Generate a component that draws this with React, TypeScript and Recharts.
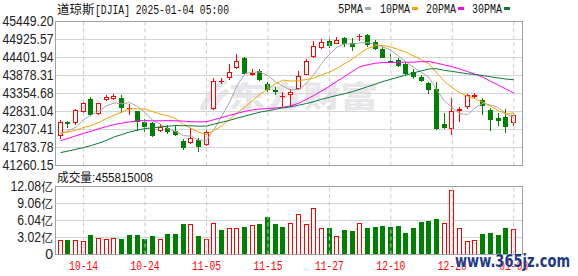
import { Bar, CartesianGrid, ComposedChart, Line, ReferenceLine, XAxis, YAxis } from 'recharts'

const dates = [
  '10-09', '10-10', '10-11', '10-14', '10-15', '10-16', '10-17', '10-18', '10-21', '10-22',
  '10-23', '10-24', '10-25', '10-28', '10-29', '10-30', '10-31', '11-01', '11-04', '11-05',
  '11-06', '11-07', '11-08', '11-11', '11-12', '11-13', '11-14', '11-15', '11-18', '11-19',
  '11-20', '11-21', '11-22', '11-25', '11-26', '11-27', '11-29', '12-02', '12-03', '12-04',
  '12-05', '12-06', '12-09', '12-10', '12-11', '12-12', '12-13', '12-16', '12-17', '12-18',
  '12-19', '12-20', '12-23', '12-24', '12-26', '12-27', '12-30', '12-31', '01-02', '01-03',
]
const open = [
  42110, 42520, 42500, 42830, 43200, 42750, 43160, 43200, 43230, 42900,
  42840, 42540, 42500, 42270, 42340, 42270, 41980, 41910, 42000, 41850,
  42890, 43720, 43800, 44090, 44380, 43900, 44010, 43630, 43470, 43260,
  43310, 43500, 43900, 44420, 44670, 44880, 44800, 44960, 44815, 44990,
  45050, 44840, 44650, 44300, 44330, 44200, 43990, 43840, 43670, 43500,
  42470, 42313, 42845, 42952, 43244, 43165, 42874, 42632, 42680, 42505,
]
const high = [
  42580, 42560, 42900, 43110, 43240, 43090, 43320, 43340, 43300, 43060,
  42860, 42600, 42520, 42460, 42430, 42430, 42020, 42340, 42050, 42290,
  43800, 43810, 44200, 44490, 44420, 44060, 44060, 43680, 43530, 43390,
  43500, 44020, 44350, 44880, 44930, 45000, 44990, 45000, 44960, 45080,
  45090, 44900, 44700, 44500, 44400, 44230, 44080, 43900, 43700, 43700,
  42780, 43215, 42950, 43340, 43360, 43220, 42920, 42780, 42900, 42800,
]
const low = [
  42030, 42340, 42440, 42800, 42700, 42720, 43150, 43180, 42800, 42730,
  42270, 42240, 42100, 42240, 42180, 42120, 41700, 41900, 41660, 41840,
  42880, 43640, 43760, 44060, 43880, 43850, 43730, 43410, 43300, 42970,
  42970, 43450, 43880, 44400, 44650, 44690, 44790, 44700, 44590, 44870,
  44700, 44610, 44380, 44230, 44120, 43890, 43780, 43680, 43330, 42280,
  42330, 42140, 42530, 42900, 43200, 42720, 42270, 42400, 42210, 42420,
]
const close = [
  42512, 42454, 42864, 43065, 42740, 43077, 43239, 43276, 42932, 42925,
  42514, 42374, 42114, 42387, 42234, 42142, 41763, 42052, 41794, 42222,
  43730, 43729, 43989, 44293, 43911, 43958, 43751, 43445, 43389, 43269,
  43408, 43870, 44296, 44736, 44860, 44722, 44911, 44782, 44705, 45014,
  44765, 44643, 44401, 44248, 44149, 43914, 43828, 43717, 43450, 42327,
  42342, 42840, 42907, 43297, 43325, 42992, 42573, 42544, 42392, 42732,
]
// 成交量, 亿
const volume = [
  2.66, 2.49, 2.66, 2.31, 3.55, 3.02, 2.72, 2.96, 2.72, 3.42,
  3.55, 2.84, 3.2, 2.84, 3.73, 3.73, 5.33, 5.33, 3.37, 2.84,
  5.63, 4.44, 4.62, 4.62, 4.8, 5.27, 5.5, 6.75, 5.33, 4.97,
  5.63, 7.28, 5.33, 8.29, 4.73, 4.62, 3.2, 4.44, 4.26, 5.63,
  4.62, 4.8, 5.15, 4.8, 5.15, 3.9, 4.62, 5.86, 6.04, 6.39,
  5.63, 11.37, 4.62, 2.31, 2.66, 3.73, 3.9, 3.55, 4.62, 4.56,
]
const ma5 = [
  42182, 42271, 42373, 42595, 42727, 42840, 42997, 43079, 43053, 43090,
  42977, 42804, 42572, 42463, 42325, 42250, 42128, 42116, 41997, 41995,
  42312, 42705, 43093, 43592, 43930, 43976, 43980, 43872, 43691, 43562,
  43452, 43476, 43646, 43916, 44234, 44497, 44705, 44802, 44796, 44827,
  44835, 44782, 44706, 44614, 44441, 44271, 44108, 43971, 43812, 43447,
  43133, 42935, 42773, 42743, 42942, 43072, 43019, 42946, 42765, 42647,
]
const ma10 = [
  42208, 42236, 42291, 42365, 42423, 42511, 42634, 42726, 42824, 42908,
  42909, 42901, 42826, 42758, 42707, 42614, 42466, 42344, 42230, 42160,
  42281, 42417, 42604, 42795, 42962, 43144, 43343, 43482, 43642, 43746,
  43714, 43728, 43759, 43803, 43898, 43975, 44091, 44224, 44356, 44530,
  44666, 44743, 44754, 44705, 44634, 44553, 44445, 44338, 44213, 43944,
  43702, 43522, 43372, 43277, 43195, 43103, 42977, 42860, 42754, 42794,
]
const ma20 = [
  41982, 42050, 42124, 42196, 42252, 42331, 42392, 42452, 42493, 42529,
  42558, 42568, 42558, 42561, 42565, 42562, 42550, 42535, 42527, 42534,
  42595, 42659, 42715, 42776, 42835, 42879, 42904, 42913, 42936, 42953,
  42998, 43072, 43182, 43299, 43430, 43559, 43717, 43853, 43999, 44138,
  44190, 44236, 44256, 44254, 44266, 44264, 44268, 44281, 44284, 44237,
  44184, 44133, 44063, 43991, 43914, 43828, 43711, 43599, 43483, 43369,
]
const ma30 = [
  41636, 41681, 41732, 41782, 41842, 41912, 41995, 42093, 42163, 42236,
  42291, 42334, 42358, 42383, 42404, 42425, 42416, 42416, 42405, 42406,
  42466, 42518, 42574, 42639, 42698, 42756, 42814, 42851, 42898, 42938,
  42968, 43015, 43063, 43119, 43189, 43244, 43300, 43350, 43409, 43479,
  43554, 43629, 43706, 43768, 43832, 43891, 43959, 44015, 44070, 44074,
  44027, 43998, 43962, 43929, 43909, 43877, 43838, 43807, 43774, 43756,
]
const priceTicks = [41260.15, 41783.78, 42307.41, 42831.04, 43354.68, 43878.31, 44401.94, 44925.57, 45449.2]
const volumeTicks = [0, 3.02, 6.04, 9.06, 12.08]
const dateTicks = ['10-14', '10-24', '11-05', '11-15', '11-27', '12-10', '12-20', '01-03']
const title = '道琼斯'
const titleCode = '[DJIA] 2025-01-04 05:00'
const volumeLabel = '成交量'
const lastVolume = '455815008'
const legend = [
  { name: '5PMA', key: 'ma5', color: '#a6a6a6' },
  { name: '10PMA', key: 'ma10', color: '#f4a300' },
  { name: '20PMA', key: 'ma20', color: '#ff00ff' },
  { name: '30PMA', key: 'ma30', color: '#0a7a3a' },
]

const UP = '#ff0000'
const DOWN = '#008000'
const W = 578
const H = 276
const X_DOMAIN = [-0.66, 60.14]
const tickIdx = dateTicks.map((d) => dates.indexOf(d))

const rows = dates.map((date, i) => ({
  i,
  date,
  open: open[i],
  high: high[i],
  low: low[i],
  close: close[i],
  range: [low[i], high[i]],
  volume: volume[i],
  volUp: i === 0 ? close[i] >= open[i] : close[i] >= close[i - 1],
  ma5: ma5[i],
  ma10: ma10[i],
  ma20: ma20[i],
  ma30: ma30[i],
}))

function Candle(props: any) {
  const { x, y, width, height, payload } = props
  if (x == null || !payload) return null
  const top = Math.min(y, y + height)
  const bot = Math.max(y, y + height)
  const { high: h, low: l, open: o, close: c } = payload
  const toY = (v: number) => top + ((h - v) / (h - l)) * (bot - top)
  const cx = Math.round(x + width / 2 - 0.5)
  const up = c >= o
  const color = up ? UP : DOWN
  const rt = Math.round(Math.min(toY(o), toY(c)))
  const rb = Math.round(Math.max(toY(o), toY(c)))
  const hy = Math.round(top)
  const ly = Math.round(bot)
  const wx = cx + 0.5
  return (
    <g>
      <line x1={wx} x2={wx} y1={hy} y2={rt} stroke={color} />
      <line x1={wx} x2={wx} y1={rb} y2={ly} stroke={color} />
      {rb - rt <= 1 ? (
        <line x1={cx - 2} x2={cx + 3} y1={rt + 0.5} y2={rt + 0.5} stroke={color} />
      ) : up ? (
        <rect x={cx - 1.5} y={rt + 0.5} width={4} height={rb - rt - 1} fill="#fff" stroke={color} />
      ) : (
        <rect x={cx - 2} y={rt} width={5} height={rb - rt} fill={color} />
      )}
    </g>
  )
}

function VolumeBar(props: any) {
  const { x, y, width, height, payload } = props
  if (x == null || !payload) return null
  const cx = Math.round(x + width / 2 - 0.5)
  const t = Math.round(y)
  const b = Math.round(y + height)
  return payload.volUp ? (
    <rect x={cx - 1.5} y={t + 0.5} width={4} height={b - t - 1} fill="#fff" stroke={UP} />
  ) : (
    <rect x={cx - 2} y={t} width={5} height={b - t} fill={DOWN} />
  )
}

function PriceTick({ y, payload }: any) {
  return (
    <text x={53.5} y={y + 4.5} textAnchor="end" fontSize={14} fill="#222"
      fontFamily="'Liberation Sans Narrow', 'Liberation Sans', Arial, sans-serif"
      textLength={51} lengthAdjust="spacingAndGlyphs">
      {payload.value.toFixed(2)}
    </text>
  )
}

function VolumeTick({ y, payload }: any) {
  const v = payload.value as number
  if (v === 0) {
    return (
      <text x={53} y={y + 4.5} textAnchor="end" fontSize={14} fill="#222"
        fontFamily="'Liberation Sans', Arial, sans-serif">0</text>
    )
  }
  const num = v.toFixed(2)
  const numW = (num.length - 1) * 6.8 + 3.4
  return (
    <g>
      <text x={41} y={y + 4.5} textAnchor="end" fontSize={14} fill="#222"
        fontFamily="'Liberation Sans Narrow', 'Liberation Sans', Arial, sans-serif"
        textLength={numW} lengthAdjust="spacingAndGlyphs">{num}</text>
      <text x={41} y={y + 5} fontSize={12} fill="#222" fontFamily="'Noto Sans CJK SC', sans-serif">亿</text>
    </g>
  )
}

function DateTick({ x, payload }: any) {
  return (
    <text x={x} y={270} textAnchor="middle" fontSize={12} fill={UP}
      fontFamily="'Liberation Mono', monospace" textLength={29} lengthAdjust="spacingAndGlyphs">
      {dates[payload.value]}
    </text>
  )
}

const abs = { position: 'absolute' as const, left: 0, top: 0 }

export default function App() {
  return (
    <div style={{ position: 'fixed', left: 0, top: 0, width: W, height: H, background: '#fff', overflow: 'hidden' }}>
      {/* faint site logo behind the plot */}
      <svg width={W} height={H} style={abs}>
        <path d="M203 108 C 208 96, 214 88, 224 82 M213 108 C 216 100, 220 95, 226 92" stroke="#e7e7eb" strokeWidth={6} fill="none" strokeLinecap="round" />
        <text x={228} y={107} fontSize={30} fontWeight={900} fill="#e7e7eb"
          fontFamily="'Noto Sans CJK SC', sans-serif" textLength={150} lengthAdjust="spacingAndGlyphs">东方财富</text>
      </svg>

      <div style={abs}>
        <ComposedChart width={W} height={H} data={rows} margin={{ top: 21.5, right: 55.5, bottom: 110.5, left: 0 }}>
          <CartesianGrid horizontal vertical={false} stroke="#d4d4d4" />
          <XAxis type="number" dataKey="i" domain={X_DOMAIN} ticks={tickIdx} allowDataOverflow hide />
          <YAxis domain={[priceTicks[0], priceTicks[priceTicks.length - 1]]} ticks={priceTicks} allowDataOverflow
            width={55.5} axisLine={false} tickLine={false} interval={0} tick={<PriceTick />} />
          {tickIdx.map((t) => (
            <ReferenceLine key={t} x={t} stroke="#c8c8c8" strokeDasharray="4 3" />
          ))}
          <Bar dataKey="range" barSize={5} shape={<Candle />} isAnimationActive={false} />
          {legend.map((m) => (
            <Line key={m.key} type="linear" dataKey={m.key} stroke={m.color} strokeWidth={1}
              dot={false} activeDot={false} isAnimationActive={false} />
          ))}
        </ComposedChart>
      </div>

      <div style={abs}>
        <ComposedChart width={W} height={H} data={rows} margin={{ top: 186.5, right: 55.5, bottom: 0, left: 0 }}>
          <CartesianGrid horizontal vertical={false} stroke="#d4d4d4" />
          <XAxis type="number" dataKey="i" domain={X_DOMAIN} ticks={tickIdx} allowDataOverflow interval={0}
            height={21.5} axisLine={false} tickLine={false} tick={<DateTick />} />
          <YAxis domain={[0, 12.08]} ticks={volumeTicks} allowDataOverflow width={55.5}
            axisLine={false} tickLine={false} interval={0} tick={<VolumeTick />} />
          {tickIdx.map((t) => (
            <ReferenceLine key={t} x={t} stroke="#c8c8c8" strokeDasharray="4 3" />
          ))}
          <Bar dataKey="volume" barSize={5} shape={<VolumeBar />} isAnimationActive={false} />
        </ComposedChart>
      </div>

      <svg width={W} height={H} style={{ ...abs, pointerEvents: 'none' }}>
        <rect x={55.5} y={21.5} width={467} height={144} fill="none" stroke="#a0a0a0" />
        <rect x={55.5} y={186.5} width={467} height={68} fill="none" stroke="#a0a0a0" />

        <text x={57} y={13.5} fontSize={12.5} fill="#111" fontFamily="'Noto Sans CJK SC', sans-serif"
          textLength={37.5} lengthAdjust="spacingAndGlyphs">{title}</text>
        <text x={95} y={13.5} fontSize={12} fill="#111" fontFamily="'Liberation Mono', monospace"
          textLength={134} lengthAdjust="spacingAndGlyphs">{titleCode}</text>

        {legend.map((m, k) => {
          const lx = [338, 380, 426, 472][k]
          const tw = m.name.length === 4 ? 25 : 30
          return (
            <g key={m.key}>
              <text x={lx} y={12.5} fontSize={12} fill="#111" fontFamily="'Liberation Mono', monospace"
                textLength={tw} lengthAdjust="spacingAndGlyphs">{m.name}</text>
              <rect x={lx + tw + 2} y={7} width={6} height={3} fill={m.color} />
            </g>
          )
        })}

        <text x={57} y={182} fontSize={12} fill="#111" fontFamily="'Noto Sans CJK SC', sans-serif"
          textLength={35} lengthAdjust="spacingAndGlyphs">{volumeLabel}</text>
        <text x={92} y={182} fontSize={12.5} fill="#111" fontFamily="'Liberation Sans', Arial, sans-serif"
          textLength={61} lengthAdjust="spacingAndGlyphs">{':' + lastVolume}</text>

        <text x={455} y={267} fontSize={17} fontWeight={700} fill="#1f3b86" stroke="#fff" strokeWidth={0.6}
          paintOrder="stroke" fontFamily="'DejaVu Sans', sans-serif" textLength={115} lengthAdjust="spacingAndGlyphs">
          www.365jz.com
        </text>
      </svg>
    </div>
  )
}
